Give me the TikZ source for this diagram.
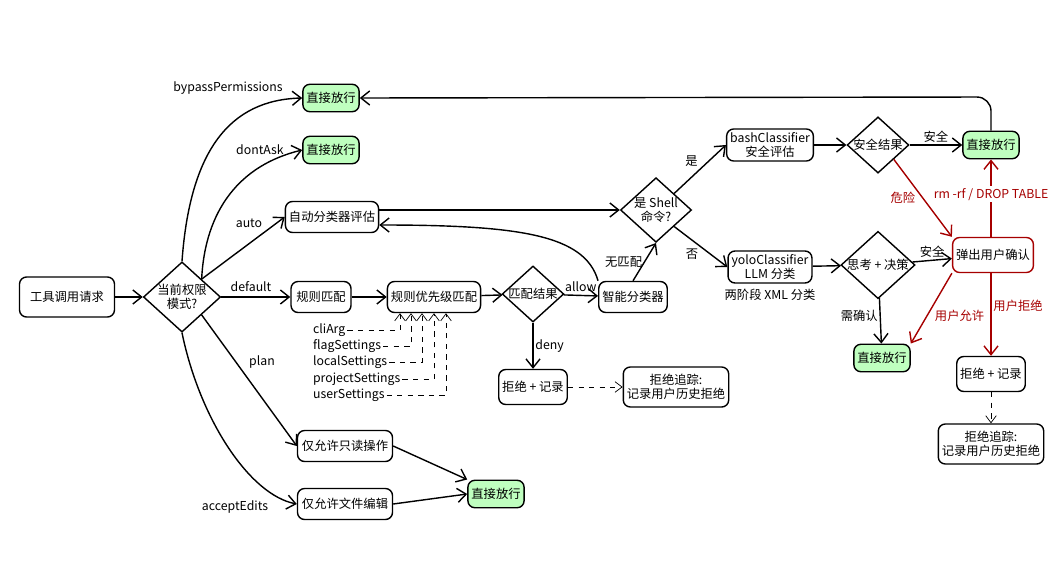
\documentclass[tikz,border=0pt]{standalone}
\usepackage{fontspec}
\setmainfont{Fira Sans}
\newfontfamily\cjk{Noto Sans CJK SC}
\usetikzlibrary{shapes.geometric,arrows.meta}
\begin{document}
\begin{tikzpicture}[x=0.02cm,y=-0.02cm,
 every node/.style={font=\cjk\fontsize{7}{8}\selectfont},
 box/.style={draw,thick,rounded corners=4pt,minimum height=0.62cm,align=center,inner sep=2pt,fill=white},
 green/.style={box,fill=green!25!white,minimum height=0.55cm},
 dia/.style={draw,thick,diamond,aspect=1.1,align=center,inner sep=0pt,fill=white},
 red/.style={draw=red!65!black},
 arr/.style={thick,-{Straight Barb[length=5pt,width=8pt]}},
 da/.style={thin,dashed,-{Straight Barb[length=4pt,width=6pt]}},
 lab/.style={font=\cjk\fontsize{7}{8}\selectfont,inner sep=1pt},
 rl/.style={lab,text=red!65!black}]
\useasboundingbox (0,0) rectangle (1054,571);
\node[box,minimum width=1.9cm,minimum height=0.8cm] (req) at (67,297) {工具调用请求};
\node[dia] (mode) at (182,297) {当前权限\\模式?};
\node[green] (g1) at (331,98) {直接放行};
\node[green] (g2) at (331,150) {直接放行};
\node[box] (auto) at (332,217) {自动分类器评估};
\node[box,minimum width=1.2cm] (rule) at (321,297) {规则匹配};
\node[box] (prio) at (434,297) {规则优先级匹配};
\node[dia] (match) at (533,294) {匹配结果};
\node[box] (smart) at (633,297) {智能分类器};
\node[dia] (shell) at (656,210) {是 Shell\\命令?};
\node[box] (bash) at (770,145) {bashClassifier\\安全评估};
\node[dia] (safe) at (878,145) {安全结果};
\node[green] (g3) at (991,145) {直接放行};
\node[box] (yolo) at (770,267) {yoloClassifier\\LLM 分类};
\node[lab] (xml) at (770,295) {两阶段 XML 分类};
\node[dia] (think) at (878,265) {思考 + 决策};
\node[box,red,minimum height=0.7cm] (conf) at (993,255) {弹出用户确认};
\node[green] (g4) at (882,358) {直接放行};
\node[box,minimum height=0.7cm] (rej2) at (991,374) {拒绝 + 记录};
\node[box,minimum width=2cm,minimum height=0.8cm] (tr2) at (991,444) {拒绝追踪:\\记录用户历史拒绝};
\node[box,minimum height=0.7cm] (rej1) at (533,387) {拒绝 + 记录};
\node[box,minimum width=2cm,minimum height=0.8cm] (tr1) at (676,387) {拒绝追踪:\\记录用户历史拒绝};
\node[box,minimum width=1.9cm] (plan) at (345,446) {仅允许只读操作};
\node[box,minimum width=1.9cm] (edit) at (345,504) {仅允许文件编辑};
\node[green] (g5) at (496,494) {直接放行};
% mode labels
\node[lab] (lbp) at (228,88) {bypassPermissions};
\node[lab] (lda) at (260,150) {dontAsk};
\node[lab] (lau) at (249,223) {auto};
\node[lab] (lde) at (251,287) {default};
\node[lab] (lpl) at (262,362) {plan};
\node[lab] (lae) at (235,507) {acceptEdits};
% settings
\foreach \n/\t/\y/\x in {s1/cliArg/330/400,s2/flagSettings/346/411,s3/localSettings/362/422,s4/projectSettings/379/434,s5/userSettings/395/446}{
 \node[lab,anchor=west] (\n) at (311,\y) {\t};
 \coordinate (\n e) at (\x,\y);
 \draw[da] (\n.east) -- (\n e) -- (prio.south -| \n e);
}
% edges
\draw[arr] (req) -- (mode);
\draw[arr] (mode.north) .. controls (190,150) and (230,100) .. (g1.west);
\draw[arr] (mode.north east) .. controls (205,210) and (240,165) .. (g2.west);
\draw[arr] (mode.north east) -- (auto.west);
\draw[arr] (mode.east) -- (rule.west);
\draw[arr] (mode.south east) -- (plan.west);
\draw[arr] (mode.south) .. controls (200,420) and (250,495) .. (edit.west);
\draw[arr] (rule) -- (prio);
\draw[arr] (prio) -- (match);
\draw[arr] (match) -- node[lab,above=1pt] {allow} (smart);
\draw[arr] (match) -- node[lab,right] {deny} (rej1);
\draw[da] (rej1) -- (tr1);
\draw[arr] (auto.east |- 0,210) -- (shell.west);
\draw[arr] (smart.north west) .. controls (585,235) and (520,225) .. (auto.east |- 0,225);
\draw[arr] (smart.north) -- node[lab,left] {无匹配} (shell.south);
\draw[arr] (shell.north east) -- node[lab,above left] {是} (bash.west);
\draw[arr] (shell.south east) -- node[lab,below left] {否} (yolo.west);
\draw[arr] (bash) -- (safe);
\draw[arr] (safe) -- node[lab,above] {安全} (g3);
\draw[arr,red] (safe.south east) -- node[rl,left=3pt] {危险} (conf.north west);
\draw[arr] (yolo) -- (think);
\draw[arr] (think) -- node[lab,above] {安全} (conf);
\draw[arr] (think) -- node[lab,left,pos=0.4] {需确认} (g4);
\draw[arr,red] (conf.north -| g3) -- node[rl,pos=0.55,fill=white] {rm -rf / DROP TABLE} (g3.south);
\draw[arr,red] (conf.south west) -- node[rl,pos=0.6,right=3pt] {用户允许} (g4.north east);
\draw[arr,red] (conf.south -| rej2) -- node[rl,pos=0.4,right] {用户拒绝} (rej2.north);
\draw[da] (rej2) -- (tr2);
\draw[arr,rounded corners=8pt] (g3.north) -- (991,97) -- (g1.east);
\draw[arr] (plan.east) -- (g5.north west);
\draw[arr] (edit.east) -- (g5.west);
\end{tikzpicture}
\end{document}
